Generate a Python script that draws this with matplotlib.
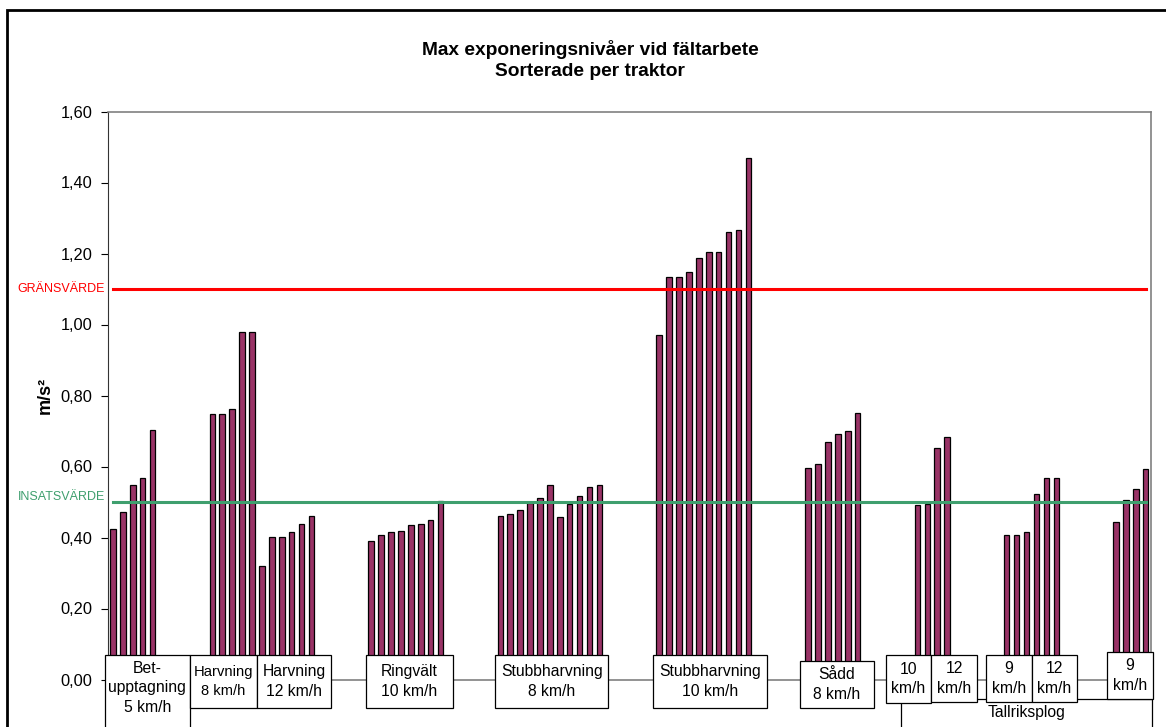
import matplotlib.pyplot as plt
from matplotlib.patches import Rectangle
from matplotlib.ticker import FixedLocator, FuncFormatter

plt.rcParams['font.family'] = ['Liberation Sans', 'DejaVu Sans']

# values per group (m/s2)
bet_5 = [0.425, 0.473, 0.549, 0.569, 0.704]
harv_8 = [0.749, 0.749, 0.761, 0.980, 0.980]
harv_12 = [0.321, 0.402, 0.402, 0.416, 0.439, 0.461]
ring_10 = [0.390, 0.406, 0.416, 0.417, 0.434, 0.439, 0.450, 0.502]
stubb_8 = [0.461, 0.467, 0.478, 0.497, 0.512, 0.549, 0.459, 0.495, 0.518, 0.543, 0.549]
stubb_10 = [0.971, 1.135, 1.135, 1.149, 1.186, 1.205, 1.205, 1.260, 1.265, 1.470]
sadd_8 = [0.595, 0.606, 0.668, 0.691, 0.699, 0.750]
tall_10 = [0.492, 0.494]
tall_12a = [0.652, 0.683]
tall_9a = [0.406, 0.406, 0.416]
tall_12b = [0.523, 0.568, 0.568]
tall_9b = [0.444, 0.505, 0.537, 0.593]

# groups in plotting order, 5 empty slots between clusters
groups = [bet_5, None, harv_8, harv_12, None, ring_10, None, stubb_8, None,
          stubb_10, None, sadd_8, None, tall_10, tall_12a, None,
          tall_9a, tall_12b, None, tall_9b]
gap = 5

limit_value = 1.10
action_value = 0.50
yticks = [0.0, 0.2, 0.4, 0.6, 0.8, 1.0, 1.2, 1.4, 1.6]

# label boxes: text, x-left, x-right (slot units), top, bottom (data units), fontsize
boxes = [
    ('Bet-\nupptagning\n5 km/h', -0.84, 7.76, 0.069, -0.2, 11.3),
    ('Harvning\n8 km/h', 7.76, 14.47, 0.069, -0.080, 10.6),
    ('Harvning\n12 km/h', 14.47, 22.0, 0.069, -0.080, 11.3),
    ('Ringvält\n10 km/h', 25.5, 34.2, 0.069, -0.080, 11.3),
    ('Stubbharvning\n8 km/h', 38.5, 49.9, 0.069, -0.080, 11.3),
    ('Stubbharvning\n10 km/h', 54.4, 65.9, 0.069, -0.080, 11.3),
    ('Sådd\n8 km/h', 69.2, 76.6, 0.052, -0.080, 11.3),
    ('10\nkm/h', 77.8, 82.4, 0.069, -0.065, 11.3),
    ('12\nkm/h', 82.4, 87.0, 0.069, -0.062, 11.3),
    ('9\nkm/h', 87.9, 92.5, 0.069, -0.063, 11.3),
    ('12\nkm/h', 92.5, 97.1, 0.069, -0.063, 11.3),
    ('9\nkm/h', 100.1, 104.7, 0.077, -0.055, 11.3),
]

# build positions
xs, ys = [], []
pos = 0
for g in groups:
    if g is None:
        pos += gap
        continue
    for v in g:
        xs.append(pos)
        ys.append(v)
        pos += 1

fig = plt.figure(figsize=(11.66, 7.27), dpi=100)
ax = fig.add_axes([108 / 1166, 47.5 / 727, 1042.7 / 1166, 568 / 727])

ax.bar(xs, ys, width=0.55, color='#993366', edgecolor='black', linewidth=0.9, zorder=2)

ax.plot([xs[0], xs[-1]], [limit_value, limit_value], color='#ff0000', lw=2.2, zorder=3)
ax.plot([xs[0], xs[-1]], [action_value, action_value], color='#3f9f6e', lw=2.2, zorder=3)

ax.set_xlim(-0.5, pos - 0.5)
ax.set_ylim(0, 1.6)
ax.yaxis.set_major_locator(FixedLocator(yticks))
ax.yaxis.set_major_formatter(FuncFormatter(lambda v, p: f'{v:.2f}'.replace('.', ',')))
ax.tick_params(axis='y', labelsize=11.8, length=5, width=0.8, pad=6, direction='out')
ax.set_xticks([])

for side in ['top', 'right', 'bottom']:
    ax.spines[side].set_color('#808080')
    ax.spines[side].set_linewidth(1.2)
ax.spines['left'].set_color('#333333')

# reference line labels left of axis
ax.text(-0.003, limit_value, 'GRÄNSVÄRDE', transform=ax.get_yaxis_transform(),
        ha='right', va='center', color='#ff0000', fontsize=9)
ax.text(-0.003, action_value + 0.015, 'INSATSVÄRDE', transform=ax.get_yaxis_transform(),
        ha='right', va='center', color='#3f9f6e', fontsize=9)

ax.set_ylabel('m/s²', fontsize=13, fontweight='bold', labelpad=5)

# outer box spanning the Tallriksplog groups
ax.add_patch(Rectangle((79.4, -0.2), 104.6 - 79.4, 0.2 - 0.055, facecolor='white',
                       edgecolor='black', lw=0.9, clip_on=False, zorder=4))
ax.text((79.4 + 104.6) / 2, -0.094, 'Tallriksplog', ha='center', va='center',
        fontsize=11.3, clip_on=False, zorder=6)

for text, x0, x1, top, bot, fs in boxes:
    ax.add_patch(Rectangle((x0, bot), x1 - x0, top - bot, facecolor='white',
                           edgecolor='black', lw=0.9, clip_on=False, zorder=5))
    mid = (top + bot) / 2 if bot > -0.15 else 0.069 - 0.092
    ax.text((x0 + x1) / 2, mid, text, ha='center', va='center', fontsize=fs,
            linespacing=1.38, clip_on=False, zorder=6)

fig.text(590 / 1166, 1 - 60 / 727, 'Max exponeringsnivåer vid fältarbete\nSorterade per traktor',
         ha='center', va='center', fontsize=13.8, fontweight='bold', linespacing=1.3)

# chart area frame
fig.patches.append(Rectangle((7 / 1166, -0.05), 1.1, 1.05 - 10 / 727, transform=fig.transFigure,
                             fill=False, edgecolor='black', lw=2))

fig.savefig('out.png', dpi=100)
